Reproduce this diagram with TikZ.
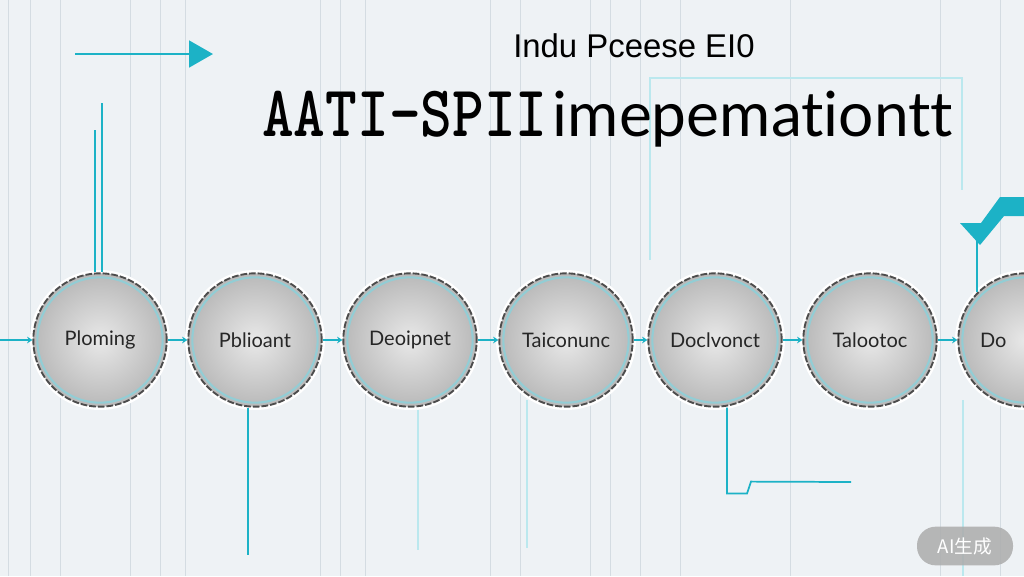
\documentclass[tikz,border=0pt]{standalone}
\usepackage{fontspec}
\usetikzlibrary{arrows.meta, positioning}
\newfontfamily\lato[Ligatures=CommonOff]{Lato}
\newfontfamily\narrowsans{Liberation Sans}
\newfontfamily\cjk{Noto Sans CJK SC}
\definecolor{bgcol}{RGB}{238,242,245}
\definecolor{cyanline}{RGB}{28,178,198}
\definecolor{faintline}{RGB}{212,220,226}

\begin{document}
\begin{tikzpicture}[
    x=0.75pt, y=-0.75pt,
    stage/.style={circle, minimum size=100pt, inner sep=0pt, inner color=gray!18, outer color=gray!55, draw=black!70, line width=1.4pt, dash pattern=on 5pt off 1.5pt, preaction={draw=white, line width=5pt, solid}, text=black!85, font=\lato\fontsize{15}{18}\selectfont},
    ring/.style={draw=cyanline!55, line width=1.6pt, opacity=0.7},
    link/.style={draw=cyanline, line width=1.8pt, -{Stealth[length=4pt, width=5pt]}},
    thinlink/.style={draw=cyanline, line width=1.3pt},
    faint/.style={draw=faintline, line width=0.7pt},
    faintcyan/.style={draw=cyanline!30, line width=0.8pt},
    badge/.style={rounded corners=14pt, fill=gray!65, fill opacity=0.85, text opacity=1, text=white, minimum width=72pt, minimum height=29pt, font=\cjk\fontsize{14}{16}\selectfont}
    ]
    \useasboundingbox (0,0) rectangle (1024,576);
    \clip (0,0) rectangle (1024,576);
    \fill[bgcol] (0,0) rectangle (1024,576);

    % Background lines
    \foreach \x in {8,30,60,130,160,185,320,340,365,490,520,590,610,640,680,790,940,1000}
        \draw[faint] (\x,0) -- (\x,576);
    \draw[faintcyan] (418,410) -- (418,550);
    \draw[faintcyan] (527,400) -- (527,548);
    \draw[faintcyan] (963,400) -- (963,576);
    \draw[faintcyan] (650,260) -- (650,78) -- (962,78) -- (962,190);

    % Titles
    \node (subtitle) [anchor=base west, inner sep=0pt] at (513,57) {\resizebox{181pt}{!}{\narrowsans Indu Pceese EI0}};
    \node (title) [anchor=base west, inner sep=0pt] at (262,136) {\resizebox{214pt}{34pt}{\ttfamily\bfseries AATI-SPII}\hspace{4pt}\resizebox{300pt}{!}{\lato imepemationtt}};

    % Top arrow
    \coordinate (a0) at (75,54);
    \coordinate (a1) at (213,54);
    \draw[draw=cyanline, line width=2.2pt, -{Triangle[length=18pt, width=20pt]}] (a0) -- (a1);

    % Stages
    \node (c1) [stage] at (100,340) {Ploming};
    \node (c2) [stage] at (255,340) {Pblioant};
    \node (c3) [stage] at (410,340) {Deoipnet};
    \node (c4) [stage] at (566,340) {Taiconunc};
    \node (c5) [stage] at (715,340) {Doclvonct};
    \node (c6) [stage] at (870,340) {Talootoc};
    \node (c7) [stage] at (1025,340) {Do\phantom{clvonct}};
    \foreach \n in {c1,c2,c3,c4,c5,c6,c7}
        \draw[ring] (\n.center) circle[radius=47pt];

    % Connectors
    \coordinate (lin) at (0,340);
    \draw[link] (lin) -- (c1);
    \draw[link] (c1) -- (c2);
    \draw[link] (c2) -- (c3);
    \draw[link] (c3) -- (c4);
    \draw[link] (c4) -- (c5);
    \draw[link] (c5) -- (c6);
    \draw[link] (c6) -- (c7);

    % Side lines
    \coordinate (t1) at (95,130);
    \coordinate (t2) at (102,103);
    \draw[thinlink, line width=0.9pt] (t1) -- (t1 |- c1.north);
    \draw[thinlink] (t2) -- (t2 |- c1.north);
    \coordinate (b2) at (248,555);
    \draw[thinlink] (c2.south -| b2) -- (b2);
    \coordinate (s5) at (851,482);
    \draw[thinlink] ([xshift=9pt]c5.south) -- ++(0,86) -- ++(20,0) -- ++(4,-12) -- (s5);
    \fill[cyanline] (960,223) -- (981,223) -- (1000,197) -- (1024,197) -- (1024,216) -- (1004,216) -- (980,245) -- cycle;
    \coordinate (chev) at (977,240);
    \draw[thinlink, line width=2pt] (chev) -- (chev |- c7.north west);

    % Badge
    \node (badge) [badge] at (965,546) {AI生成};
\end{tikzpicture}
\end{document}
